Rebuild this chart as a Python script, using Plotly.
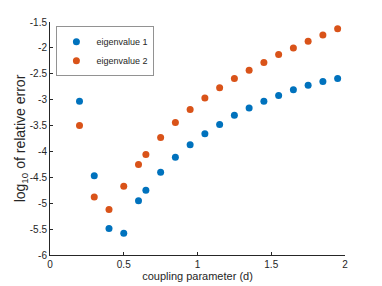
import plotly.graph_objects as go

d_vals = [0.2, 0.3, 0.4, 0.5, 0.6, 0.65, 0.75, 0.85, 0.95, 1.05, 1.15, 1.25, 1.35, 1.45, 1.55, 1.65, 1.75, 1.85, 1.95]
eig1 = [-3.03, -4.47, -5.49, -5.58, -4.95, -4.75, -4.40, -4.11, -3.87, -3.66, -3.48, -3.30, -3.16, -3.03, -2.92, -2.81, -2.72, -2.65, -2.59]
eig2 = [-3.50, -4.88, -5.12, -4.67, -4.25, -4.06, -3.73, -3.44, -3.19, -2.97, -2.77, -2.59, -2.43, -2.28, -2.13, -2.00, -1.87, -1.75, -1.63]
x_ticks = [0, 0.5, 1, 1.5, 2]
x_tick_labels = ["0", "0.5", "1", "1.5", "2"]
y_ticks = [-6, -5.5, -5, -4.5, -4, -3.5, -3, -2.5, -2, -1.5]
y_tick_labels = ["-6", "-5.5", "-5", "-4.5", "-4", "-3.5", "-3", "-2.5", "-2", "-1.5"]

fig = go.Figure()
fig.add_trace(go.Scatter(x=d_vals, y=eig1, mode="markers", name="eigenvalue 1",
                         marker=dict(color="#0072BD", size=7, line=dict(width=0))))
fig.add_trace(go.Scatter(x=d_vals, y=eig2, mode="markers", name="eigenvalue 2",
                         marker=dict(color="#D95319", size=7, line=dict(width=0))))

axis_common = dict(showline=True, linecolor="#262626", linewidth=1, ticks="inside",
                   ticklen=3, tickcolor="#262626", showgrid=False, zeroline=False,
                   automargin=False,
                   tickfont=dict(family="Liberation Sans, Arial", size=10, color="#262626"))

fig.update_layout(
    width=382, height=286,
    margin=dict(l=49.5, r=37, t=22, b=31),
    plot_bgcolor="white", paper_bgcolor="white",
    font=dict(family="Liberation Sans, Arial", size=10, color="#262626"),
    xaxis=dict(range=[0, 2], tickvals=x_ticks, ticktext=x_tick_labels,
               title=dict(text="coupling parameter (d)", font=dict(size=11), standoff=2),
               **axis_common),
    yaxis=dict(range=[-6, -1.5], tickvals=y_ticks, ticktext=y_tick_labels,
               title=dict(text="log<sub>10</sub> of relative error", font=dict(size=14), standoff=0),
               **axis_common),
    legend=dict(x=0.02, y=0.98, xanchor="left", yanchor="top",
                bordercolor="#262626", borderwidth=0.5, bgcolor="white",
                font=dict(size=9), itemwidth=30, tracegroupgap=0),
    showlegend=True,
)

fig.write_html("out.html", config={"displayModeBar": False},
               post_script="document.body.style.margin='0';document.body.style.overflow='hidden';")
